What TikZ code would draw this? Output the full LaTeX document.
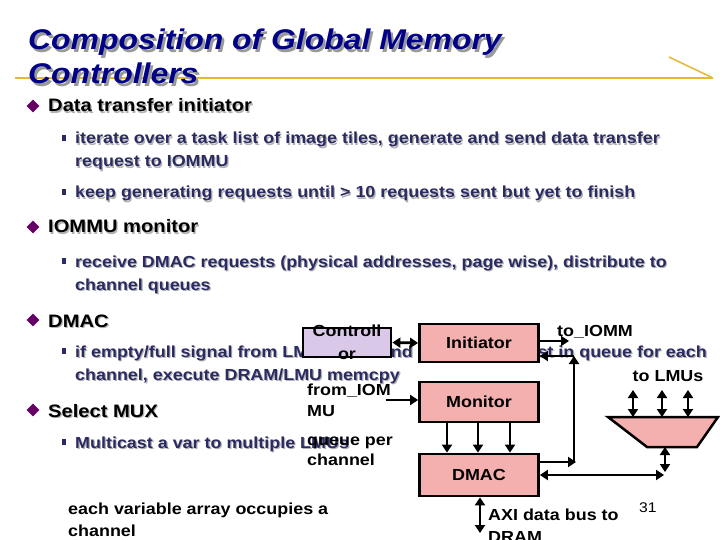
\documentclass[tikz,border=0pt]{standalone}
\usepackage{fontspec}
\setmainfont{Liberation Sans}[FakeStretch=1.12]
\usetikzlibrary{arrows.meta,shapes.geometric}
\definecolor{titleblue}{HTML}{000088}
\definecolor{subnavy}{HTML}{2B2B64}
\definecolor{bulletpurple}{HTML}{660066}
\definecolor{boxpink}{HTML}{F4AFAF}
\definecolor{boxlav}{HTML}{D9C8E8}
\definecolor{rulegold}{HTML}{E6B830}
\newcommand{\shtx}[3]{\makebox[0pt][l]{\hspace*{#1}\raisebox{-#1}[0pt][0pt]{\textcolor{#2}{#3}}}#3}
\begin{document}
\begin{tikzpicture}[x=1pt,y=-1pt,
  titlesty/.style={anchor=base west, inner sep=0pt, font=\fontsize{28.5}{32}\selectfont\bfseries\itshape, text=titleblue},
  mainsty/.style={anchor=base west, inner sep=0pt, font=\fontsize{18}{21}\selectfont\bfseries, text=black},
  substy/.style={anchor=base west, inner sep=0pt, font=\fontsize{16}{19}\selectfont\bfseries, text=subnavy},
  lbl/.style={anchor=base west, inner sep=0pt, font=\fontsize{16}{19}\selectfont\bfseries, text=black},
  lblc/.style={lbl, anchor=base},
  dia/.style={diamond, aspect=1, fill=bulletpurple, minimum size=13pt, inner sep=0pt},
  sqb/.style={rectangle, fill=subnavy, minimum width=4pt, minimum height=5.5pt, inner sep=0pt},
  box/.style={draw=black, line width=2.8pt, fill=boxpink, minimum width=119pt, minimum height=40pt, inner sep=0pt, font=\fontsize{16}{19}\selectfont\bfseries},
  arr/.style={line width=2.8pt, -{Triangle[length=8pt,width=10pt]}},
  darr/.style={line width=2.8pt, {Triangle[length=8pt,width=10pt]}-{Triangle[length=8pt,width=10pt]}}
]
\useasboundingbox (0,0) rectangle (720,540);
\fill[white] (0,0) rectangle (720,540);

% title and rule
\coordinate (g1) at (15,78);
\coordinate (g2) at (713,78);
\coordinate (g3) at (669,57);
\draw[rulegold, line width=1.5pt] (g1) -- (g2);
\draw[rulegold, line width=1.5pt] (g3) -- (g2);
\node[titlesty] (t1) at (28,50) {\shtx{2.5pt}{black!40}{Composition of Global Memory}};
\node[titlesty] (t2) at (28,84) {\shtx{2.5pt}{black!40}{Controllers}};

% bullets
\node[dia] (d1) at (33,106) {};
\node[dia] (d2) at (33,227) {};
\node[dia] (d3) at (33,320) {};
\node[dia] (d4) at (33,410) {};
\node[sqb] (q1) at (63.5,138) {};
\node[sqb] (q2) at (63.5,192) {};
\node[sqb] (q3) at (63.5,261) {};
\node[sqb] (q4) at (63.5,351) {};
\node[sqb] (q5) at (63.5,442) {};

\node[mainsty] (m1) at (48,112) {\shtx{1.2pt}{black!30}{Data transfer initiator}};
\node[substy] (s1a) at (75,144) {\shtx{1.2pt}{black!30}{iterate over a task list of image tiles, generate and send data transfer}};
\node[substy] (s1b) at (75,167) {\shtx{1.2pt}{black!30}{request to IOMMU}};
\node[substy] (s2) at (75,198) {\shtx{1.2pt}{black!30}{keep generating requests until > 10 requests sent but yet to finish}};
\node[mainsty] (m2) at (48,233) {\shtx{1.2pt}{black!30}{IOMMU monitor}};
\node[substy] (s3a) at (75,267) {\shtx{1.2pt}{black!30}{receive DMAC requests (physical addresses, page wise), distribute to}};
\node[substy] (s3b) at (75,290) {\shtx{1.2pt}{black!30}{channel queues}};
\node[mainsty] (m3) at (48,327) {\shtx{1.2pt}{black!30}{DMAC}};
\node[substy] (s4a) at (75,357) {\shtx{1.2pt}{black!30}{if empty/full signal from LMU}};
\node[substy, anchor=base east] (s4b) at (413,357) {\shtx{1.2pt}{black!30}{and}};
\node[substy, anchor=base east] (s4c) at (707,357) {\shtx{1.2pt}{black!30}{request in queue for each}};
\node[substy] (s4d) at (75,380) {\shtx{1.2pt}{black!30}{channel, execute DRAM/LMU memcpy}};
\node[mainsty] (m4) at (48,417) {\shtx{1.2pt}{black!30}{Select MUX}};
\node[substy] (s5) at (75,448) {\shtx{1.2pt}{black!30}{Multicast a var to multiple LMUs}};

% diagram boxes
\node[box, fill=boxlav, minimum width=88pt, minimum height=29pt] (ctrl) at (347,342.5) {};
\node[box, minimum height=38pt] (init) at (479,343) {Initiator};
\node[box, minimum height=40pt] (mon) at (479,402) {Monitor};
\node[box, minimum height=42pt] (dmac) at (479,475) {DMAC};

% MUX
\coordinate (mx1) at (608,417);
\coordinate (mx2) at (718,417);
\coordinate (mx3) at (697,447);
\coordinate (mx4) at (647,447);
\draw[fill=boxpink, line width=2.5pt, line join=miter] (mx1) -- (mx2) -- (mx3) -- (mx4) -- cycle;

% connectors
\draw[darr] (ctrl.east) -- (init.west);
\coordinate (ti) at (569,341);
\draw[arr] (init.east |- ti) -- (ti);
\coordinate (fb1) at (576,462);
\coordinate (fb2) at (574,356);
\draw[arr] (dmac.east |- fb1) -- (fb1);
\draw[arr] (574,462) -- (fb2);
\draw[arr] (fb2) -- (init.east |- fb2);
\coordinate (fi) at (386,400);
\draw[arr] (fi) -- (mon.west |- fi);
\foreach \xx in {447,478,510} \draw[arr] (mon.south -| \xx,0) -- (dmac.north -| \xx,0);
\coordinate (bj) at (664,475);
\draw[darr] (dmac.east |- bj) -- (bj);
\coordinate (mb) at (665,447);
\coordinate (mj) at (665,472);
\draw[darr] (mb) -- (mj);
\foreach \xx in {633,662,688} \draw[darr] (\xx,390) -- (\xx,417);
\coordinate (axi) at (480,533);
\draw[darr] (dmac.south -| axi) -- (axi);

% labels
\node[lblc] (lc1) at (347,336) {Controll};
\node[lblc] (lc2) at (347,359) {or};
\node[lbl] (lto) at (557,336) {to\_IOMM};
\node[lblc] (llmu) at (668,381) {to LMUs};
\node[lbl] (lf1) at (307,395) {from\_IOM};
\node[lbl] (lf2) at (307,416) {MU};
\node[lbl] (lq1) at (307,445) {queue per};
\node[lbl] (lq2) at (307,465) {channel};
\node[lbl] (la1) at (488,520) {AXI data bus to};
\node[lbl] (la2) at (488,542) {DRAM};
\node[anchor=base west, inner sep=0pt, font=\fontsize{14}{16}\selectfont] (pg) at (639,512) {31};
\node[lbl] (le1) at (68,514) {each variable array occupies a};
\node[lbl] (le2) at (68,536) {channel};
\end{tikzpicture}
\end{document}
